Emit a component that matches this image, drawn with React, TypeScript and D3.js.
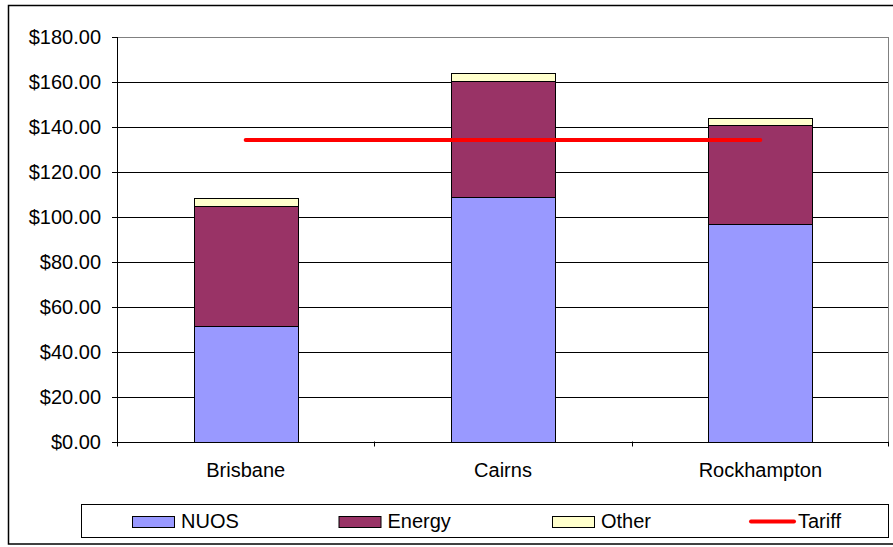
import * as d3 from "d3";

const categories = ["Brisbane", "Cairns", "Rockhampton"];
const nuos = [51.5, 109, 96.8];
const energy = [53.2, 51.5, 43.9];
const other = [3.5, 3.6, 3.4];
const tariff = [134.2, 134.2, 134.2];
const yTicks = [0, 20, 40, 60, 80, 100, 120, 140, 160, 180];

const seriesNames = ["NUOS", "Energy", "Other"];
const seriesColors = ["#9999FF", "#993366", "#FFFFCC"];

const W = 893;
const H = 547;
const plot = { left: 117, right: 889, top: 37, bottom: 441.5 };
const font = "'Liberation Sans', Arial, sans-serif";

const App = () => {
  const x = d3
    .scaleBand<string>()
    .domain(categories)
    .range([plot.left, plot.right])
    .paddingInner(0.596)
    .paddingOuter(0.298);

  const band = d3
    .scaleBand<string>()
    .domain(categories)
    .range([plot.left, plot.right]);

  const y = d3.scaleLinear().domain([0, 180]).range([plot.bottom, plot.top]);

  // stacked table built from the series arrays
  const rows = categories.map((c, i) => ({
    cat: c,
    NUOS: nuos[i],
    Energy: energy[i],
    Other: other[i],
  }));
  const stacked = d3.stack<any>().keys(seriesNames)(rows);

  const center = (c: string) => (band(c) as number) + band.bandwidth() / 2;
  const tariffLine = d3
    .line<number>()
    .x((_, i) => center(categories[i]))
    .y((d) => y(d));

  const fmt = (v: number) => "$" + v.toFixed(2);

  // legend layout
  const legendX = [132, 338.5, 552, 749];

  return (
    <svg
      width={W}
      height={H}
      style={{ position: "absolute", left: 0, top: 0, background: "#fff" }}
      fontFamily={font}
    >
      {/* outer chart border */}
      <rect x={8.5} y={5.5} width={900} height={538.5} fill="#fff" stroke="#000" strokeWidth={1.5} />

      {/* gridlines */}
      {yTicks.map((t) => (
        <line key={t} x1={plot.left} x2={plot.right} y1={Math.round(y(t)) + 0.5} y2={Math.round(y(t)) + 0.5} stroke="#000" strokeWidth={1} />
      ))}
      {/* plot area border (top/right) */}
      <line x1={plot.left} x2={plot.right} y1={plot.top + 0.5} y2={plot.top + 0.5} stroke="#808080" />
      <line x1={plot.right - 0.5} x2={plot.right - 0.5} y1={plot.top} y2={plot.bottom} stroke="#808080" />

      {/* bars */}
      {stacked.map((s, si) =>
        s.map((d, i) => (
          <rect
            key={seriesNames[si] + i}
            x={Math.round(x(categories[i]) as number) + 0.5}
            y={Math.round(y(d[1])) + 0.5}
            width={Math.round(x.bandwidth())}
            height={Math.round(y(d[0])) - Math.round(y(d[1]))}
            fill={seriesColors[si]}
            stroke="#000"
            strokeWidth={1}
          />
        ))
      )}

      {/* tariff line */}
      <path d={tariffLine(tariff) as string} stroke="#FF0000" strokeWidth={4} strokeLinecap="round" fill="none" />

      {/* y axis */}
      <line x1={plot.left + 0.5} x2={plot.left + 0.5} y1={plot.top} y2={plot.bottom + 1} stroke="#000" />
      {yTicks.map((t) => (
        <g key={"yt" + t}>
          <line x1={plot.left - 5} x2={plot.left} y1={Math.round(y(t)) + 0.5} y2={Math.round(y(t)) + 0.5} stroke="#000" />
          <text x={101} y={y(t)} dy="0.35em" textAnchor="end" fontSize={20} fill="#000">
            {fmt(t)}
          </text>
        </g>
      ))}

      {/* x axis */}
      <line x1={plot.left} x2={plot.right} y1={Math.round(plot.bottom) + 0.5} y2={Math.round(plot.bottom) + 0.5} stroke="#000" />
      {[...categories.map((c) => band(c) as number), plot.right - 1].map((bx, i) => (
        <line key={"xt" + i} x1={Math.round(bx) + 0.5} x2={Math.round(bx) + 0.5} y1={plot.bottom} y2={plot.bottom + 5} stroke="#000" />
      ))}
      {categories.map((c) => (
        <text key={c} x={center(c)} y={476.5} textAnchor="middle" fontSize={20} fill="#000">
          {c}
        </text>
      ))}

      {/* legend */}
      <rect x={81.5} y={504.5} width={807} height={33} fill="#fff" stroke="#000" strokeWidth={1} />
      {seriesNames.map((n, i) => (
        <g key={"lg" + n}>
          <rect x={legendX[i] + 0.5} y={516.5} width={42} height={11} fill={seriesColors[i]} stroke="#000" />
          <text x={legendX[i] + 49} y={527.5} fontSize={20} fill="#000">
            {n}
          </text>
        </g>
      ))}
      <line x1={legendX[3] + 2} x2={legendX[3] + 45} y1={521.5} y2={521.5} stroke="#FF0000" strokeWidth={4} strokeLinecap="round" />
      <text x={legendX[3] + 49} y={527.5} fontSize={20} fill="#000">
        Tariff
      </text>
    </svg>
  );
};

export default App;
